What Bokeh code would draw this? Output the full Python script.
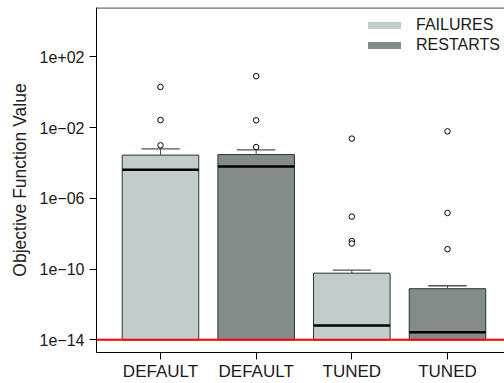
from bokeh.plotting import figure
from bokeh.models import (Range1d, FixedTicker, Span, Legend, LegendItem,
                          ColumnDataSource)
from bokeh.embed import file_html
from bokeh.resources import INLINE

# ---- data ----
categories = ["DEFAULT", "DEFAULT", "TUNED", "TUNED"]
groups = ["FAILURES", "RESTARTS", "FAILURES", "RESTARTS"]
box_top = [2.8e-4, 3.0e-4, 5.9e-11, 7.8e-12]
medians = [4.2e-5, 6.3e-5, 6.5e-14, 2.7e-14]
whisker_top = [6.3e-4, 5.5e-4, 8.7e-11, 1.15e-11]
outliers_0 = [2.0, 0.027, 1.0e-3]
outliers_1 = [8.1, 0.026, 8.0e-4]
outliers_2 = [2.4e-3, 9.3e-8, 3.9e-9, 2.8e-9]
outliers_3 = [6.2e-3, 1.5e-7, 1.35e-9]
baseline = 1e-14
target_value = 1e-14
y_tick_values = [1e-14, 1e-10, 1e-6, 1e-2, 1e2]
y_tick_labels = ["1e\u221214", "1e\u221210", "1e\u221206", "1e\u221202", "1e+02"]

colors = {"FAILURES": "#C1CDCD", "RESTARTS": "#838B8B"}
FONT = "Liberation Sans"
TXT = "#1a1a1a"

xs = list(range(len(categories)))
bar_w = 0.8
cap_w = 0.4

p = figure(width=504, height=383, output_backend="svg", toolbar_location=None,
           y_axis_type="log",
           x_range=Range1d(-0.669, 3.596),
           y_range=Range1d(10 ** -14.714, 10 ** 4.794),
           min_border_left=96, min_border_right=0, min_border_top=7,
           min_border_bottom=29)
p.outline_line_color = None
p.xgrid.visible = False
p.ygrid.visible = False
p.background_fill_color = "white"
p.border_fill_color = "white"

# bars (boxes from baseline to upper quartile)
src = ColumnDataSource(dict(x=xs, top=box_top, bottom=[baseline] * 4,
                            color=[colors[g] for g in groups]))
p.vbar(x="x", top="top", bottom="bottom", width=bar_w, fill_color="color",
       line_color="#303030", line_width=1, source=src)
# medians
p.segment(x0=[x - bar_w / 2 for x in xs], x1=[x + bar_w / 2 for x in xs],
          y0=medians, y1=medians, line_color="black", line_width=2.5)
# whiskers
p.segment(x0=xs, x1=xs, y0=box_top, y1=whisker_top, line_color="#505050",
          line_width=1)
p.segment(x0=[x - cap_w / 2 for x in xs], x1=[x + cap_w / 2 for x in xs],
          y0=whisker_top, y1=whisker_top, line_color="#505050", line_width=1.3)
# outliers
for i, outs in enumerate([outliers_0, outliers_1, outliers_2, outliers_3]):
    p.scatter(x=[xs[i]] * len(outs), y=outs, marker="circle", size=5.5,
              fill_color="white", line_color="black", line_width=1)

# target line
p.add_layout(Span(location=target_value, dimension="width", line_color="#FF0000",
                  line_width=2))
# top frame line
p.add_layout(Span(location=10 ** 4.77, dimension="width", line_color="black",
                  line_width=1))

# axes
p.yaxis.ticker = FixedTicker(ticks=y_tick_values, minor_ticks=[])
p.yaxis.major_label_overrides = dict(zip(y_tick_values, y_tick_labels))
p.yaxis.axis_label = "Objective Function Value"
p.yaxis.axis_label_text_font = FONT
p.yaxis.axis_label_text_font_style = "normal"
p.yaxis.axis_label_text_font_size = "17.5px"
p.yaxis.axis_label_text_color = "#222222"
p.yaxis.axis_label_standoff = 7
p.yaxis.major_label_text_font = FONT
p.yaxis.major_label_text_font_size = "16px"
p.yaxis.major_label_text_color = TXT
p.yaxis.major_label_standoff = 5
p.yaxis.major_tick_out = 7
p.yaxis.major_tick_in = 0
p.yaxis.minor_tick_line_color = None
p.yaxis.axis_line_color = "black"

p.xaxis.ticker = FixedTicker(ticks=xs, minor_ticks=[])
p.xaxis.major_label_overrides = {x: c for x, c in zip(xs, categories)}
p.xaxis.major_label_text_font = FONT
p.xaxis.major_label_text_font_size = "17px"
p.xaxis.major_label_text_color = TXT
p.xaxis.major_label_standoff = 2
p.xaxis.major_tick_out = 7
p.xaxis.major_tick_in = 0
p.xaxis.minor_tick_line_color = None
p.xaxis.axis_line_color = "black"

# legend (thick rounded line keys)
r_f = p.line(x=[0], y=[baseline], line_color=colors["FAILURES"], line_width=7,
             line_cap="round", line_join="round")
r_r = p.line(x=[0], y=[baseline], line_color=colors["RESTARTS"], line_width=7,
             line_cap="round", line_join="round")
legend = Legend(items=[LegendItem(label="FAILURES", renderers=[r_f]),
                       LegendItem(label="RESTARTS", renderers=[r_r])],
                location=(272, 297), padding=0, margin=0, spacing=0,
                glyph_width=33, glyph_height=20, label_height=20,
                label_standoff=15, border_line_color=None,
                background_fill_alpha=0, label_text_font=FONT,
                label_text_font_size="16px", label_text_color=TXT)
p.add_layout(legend)

open("out.html", "w").write(file_html(p, INLINE))
